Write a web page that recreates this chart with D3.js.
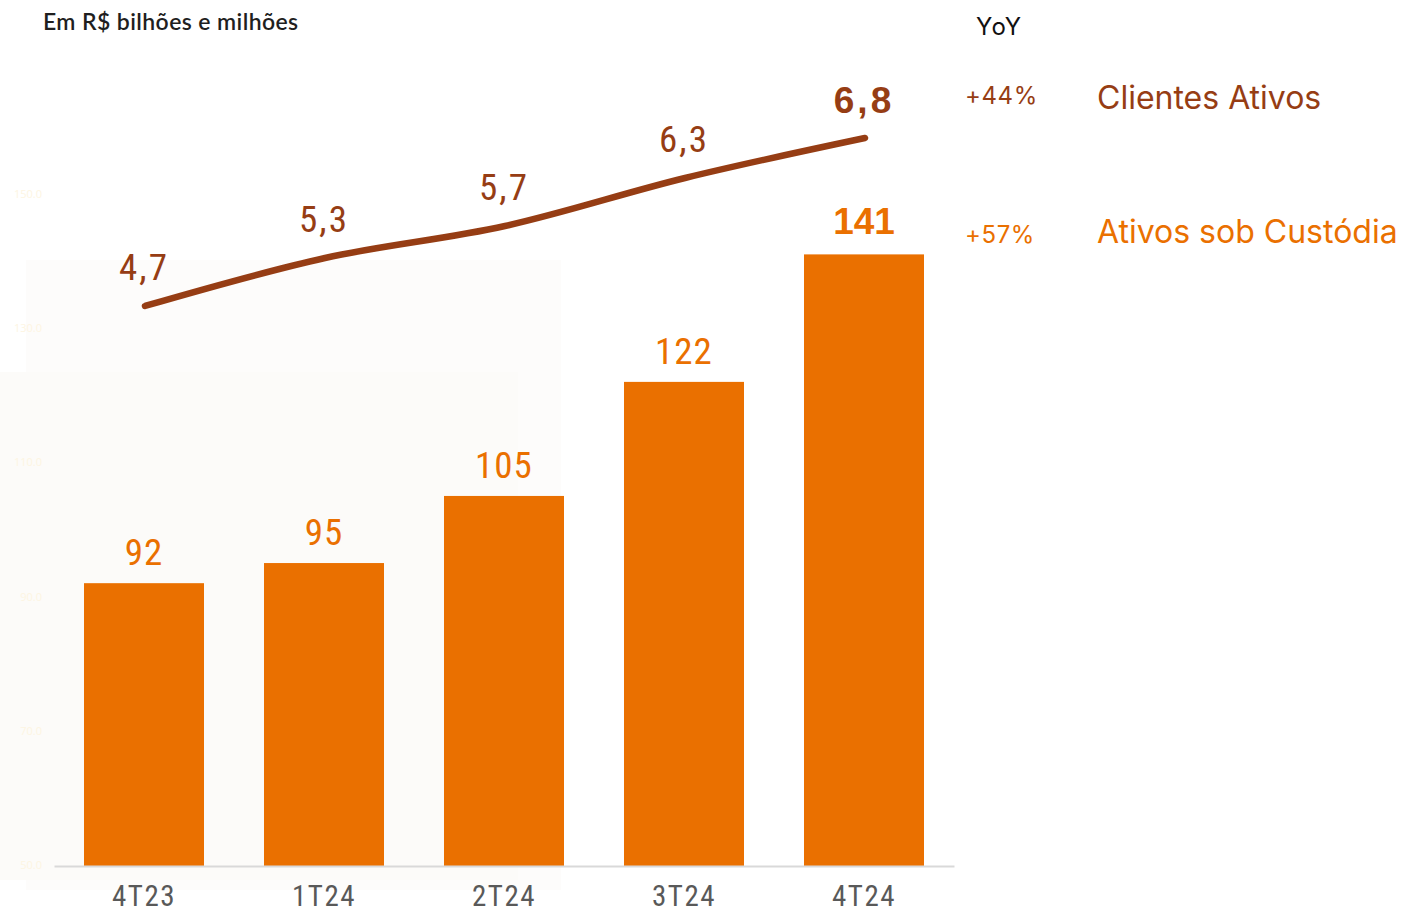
<!DOCTYPE html>
<html>
<head>
<meta charset="utf-8">
<script src="https://cdn.jsdelivr.net/npm/d3@7"></script>
<style>
  html, body { margin: 0; padding: 0; background: #ffffff; }
  svg { display: block; }
</style>
</head>
<body>
<svg id="chart" width="1403" height="912"></svg>
<script>
const categories = ["4T23", "1T24", "2T24", "3T24", "4T24"];
const custodyValues = [92, 95, 105, 122, 141];
const custodyLabels = ["92", "95", "105", "122", "141"];
const clientValues = [4.7, 5.3, 5.7, 6.3, 6.8];
const clientLabels = ["4,7", "5,3", "5,7", "6,3", "6,8"];
const ghostTicks = [50, 70, 90, 110, 130, 150];
const yoyClients = "+44%";
const yoyCustody = "+57%";

const ORANGE = "#ea7000";
const BROWN = "#963d14";
const narrow = "'Liberation Sans Narrow', 'Roboto Condensed', 'Arial Narrow', 'Liberation Sans', sans-serif";
const boldFont = "'Liberation Sans', Arial, sans-serif";
const lastIdx = categories.length - 1;

const svg = d3.select("#chart");

// faint background panels
svg.append("rect").attr("x", 26).attr("y", 260).attr("width", 535).attr("height", 630).attr("fill", "#fdfcfb");
svg.append("rect").attr("x", 0).attr("y", 372).attr("width", 518).attr("height", 508).attr("fill", "#fcfbf9");

const x = d3.scaleBand().domain(categories).range([54, 954]).paddingInner(1/3).paddingOuter(1/6);
const y = d3.scaleLinear().domain([50, 150]).range([865, 194]);
const yLine = d3.scaleLinear().domain([4.7, 6.8]).range([306, 138]);

// ghost axis labels
const ga = svg.append("g").attr("transform", "translate(42,0)")
  .call(d3.axisLeft(y).tickValues(ghostTicks).tickFormat(d3.format(".1f")).tickSize(0));
ga.select(".domain").remove();
ga.selectAll("text").attr("fill", "#fdf5e2").style("font-family", "'Open Sans', sans-serif").style("font-size", "11px").attr("x", 0);

// bars
svg.selectAll("rect.bar").data(categories).join("rect")
  .attr("class", "bar")
  .attr("x", d => x(d))
  .attr("y", (d, i) => y(custodyValues[i]))
  .attr("width", x.bandwidth())
  .attr("height", (d, i) => y(50) - y(custodyValues[i]) + 1)
  .attr("fill", ORANGE);

// baseline axis
const xa = svg.append("g").attr("transform", "translate(0,866)")
  .call(d3.axisBottom(x).tickSize(0).tickPadding(0));
xa.select(".domain").attr("stroke", "#d9d9d9").attr("stroke-width", 2);
xa.selectAll("text")
  .attr("y", 40).attr("dy", 0)
  .attr("fill", "#595959")
  .style("font-family", narrow)
  .style("font-size", "29px")
  .style("font-weight", "400")
  .style("letter-spacing", "1.5px");

// bar labels
svg.selectAll("text.blab").data(categories).join("text")
  .attr("class", "blab")
  .attr("x", d => x(d) + x.bandwidth() / 2)
  .attr("y", (d, i) => y(custodyValues[i]) - (i === lastIdx ? 20 : 18))
  .attr("text-anchor", "middle")
  .attr("fill", ORANGE)
  .style("font-family", (d, i) => i === lastIdx ? boldFont : narrow)
  .style("font-size", (d, i) => i === lastIdx ? "37px" : "37px")
  .style("font-weight", (d, i) => i === lastIdx ? "bold" : "400")
  .style("letter-spacing", (d, i) => i === lastIdx ? "0px" : "1px")
  .text((d, i) => custodyLabels[i]);

// line
const line = d3.line()
  .x((d, i) => x(categories[i]) + x.bandwidth() / 2 + 1)
  .y(d => yLine(d))
  .curve(d3.curveMonotoneX);
svg.append("path").datum(clientValues)
  .attr("d", line)
  .attr("fill", "none")
  .attr("stroke", BROWN)
  .attr("stroke-width", 6.5)
  .attr("stroke-linecap", "round");

// line labels
svg.selectAll("text.llab").data(categories).join("text")
  .attr("class", "llab")
  .attr("x", d => x(d) + x.bandwidth() / 2)
  .attr("y", (d, i) => yLine(clientValues[i]) - (i === lastIdx ? 25 : 26))
  .attr("text-anchor", "middle")
  .attr("fill", BROWN)
  .style("font-family", (d, i) => i === lastIdx ? boldFont : narrow)
  .style("font-size", (d, i) => i === lastIdx ? "37px" : "37px")
  .style("font-weight", (d, i) => i === lastIdx ? "bold" : "400")
  .style("letter-spacing", (d, i) => i === lastIdx ? "3px" : "2px")
  .text((d, i) => clientLabels[i]);

// title
svg.append("text").attr("x", 43).attr("y", 30)
  .attr("fill", "#1f1f1f")
  .style("font-family", "Lato, 'Open Sans', sans-serif")
  .style("font-weight", "600")
  .style("font-size", "23px")
  .style("letter-spacing", "0.4px")
  .text("Em R$ bilhões e milhões");

// legend
const legFont = "Inter, 'Noto Sans', sans-serif";
svg.append("text").attr("x", 976).attr("y", 35)
  .attr("fill", "#111").style("font-family", legFont).style("font-size", "24px").style("letter-spacing", "1px")
  .text("YoY");
svg.append("text").attr("x", 965).attr("y", 104)
  .attr("fill", BROWN).style("font-family", legFont).style("font-size", "24px").style("letter-spacing", "0.6px")
  .text(yoyClients);
svg.append("text").attr("x", 1097).attr("y", 109)
  .attr("fill", BROWN).style("font-family", legFont).style("font-size", "32px").style("letter-spacing", "0px")
  .text("Clientes Ativos");
svg.append("text").attr("x", 965).attr("y", 243)
  .attr("fill", ORANGE).style("font-family", legFont).style("font-size", "24px").style("letter-spacing", "0.6px")
  .text(yoyCustody);
svg.append("text").attr("x", 1097).attr("y", 243)
  .attr("fill", ORANGE).style("font-family", legFont).style("font-size", "32px").style("letter-spacing", "0px")
  .text("Ativos sob Custódia");
</script>
</body>
</html>
